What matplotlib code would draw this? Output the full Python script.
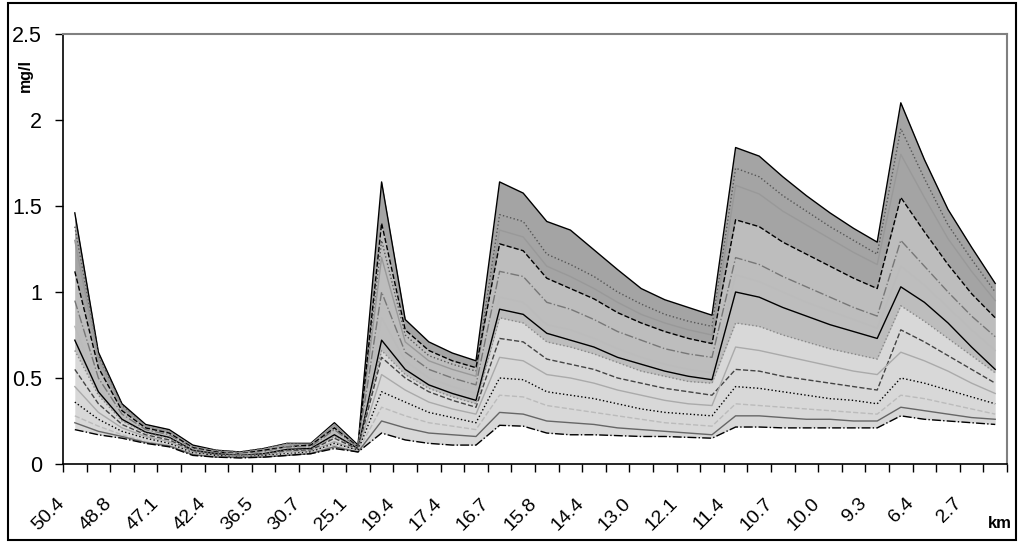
import matplotlib

matplotlib.use('Agg')
import matplotlib.pyplot as plt
import matplotlib.transforms as mtransforms
from matplotlib.patches import Rectangle
import numpy as np

plt.rcParams['font.family'] = ['Liberation Sans', 'DejaVu Sans']

# ──────────────────────────────────────────────────────────────────────────────
# Data (mg/l per river station)
# ──────────────────────────────────────────────────────────────────────────────

N_CATEGORIES = 40
KM_LABELS = ['50.4', '48.8', '47.1', '42.4', '36.5', '30.7', '25.1', '19.4',
             '17.4', '16.7', '15.8', '14.4', '13.0', '12.1', '11.4', '10.7',
             '10.0', '9.3', '6.4', '2.7']   # shown on every second station
KM_LABEL_STEP = 2

Y_TICKS = [0, 0.5, 1, 1.5, 2, 2.5]
Y_TICK_LABELS = ['0', '0.5', '1', '1.5', '2', '2.5']

c01 = [1.46, 0.65, 0.35, 0.23, 0.20, 0.11, 0.08, 0.07, 0.09, 0.12, 0.12, 0.24, 0.11,
       1.64, 0.84, 0.71, 0.645, 0.60,
       1.64, 1.575, 1.41, 1.36, 1.245, 1.13, 1.02, 0.955, 0.91, 0.865,
       1.84, 1.79, 1.67, 1.56, 1.46, 1.37, 1.29,
       2.10, 1.77, 1.48, 1.26, 1.05]
c02 = [1.38, 0.63, 0.34, 0.22, 0.19, 0.10, 0.08, 0.07, 0.09, 0.12, 0.11, 0.23, 0.10,
       1.30, 0.75, 0.63, 0.58, 0.54,
       1.45, 1.41, 1.22, 1.16, 1.09, 1.00, 0.93, 0.87, 0.83, 0.80,
       1.72, 1.67, 1.56, 1.47, 1.38, 1.30, 1.22,
       1.95, 1.66, 1.39, 1.19, 1.00]
c03 = [1.30, 0.61, 0.33, 0.22, 0.19, 0.10, 0.075, 0.065, 0.085, 0.115, 0.115, 0.23, 0.10,
       1.20, 0.71, 0.60, 0.55, 0.51,
       1.36, 1.32, 1.15, 1.09, 1.02, 0.94, 0.87, 0.82, 0.78, 0.75,
       1.62, 1.57, 1.47, 1.39, 1.31, 1.23, 1.16,
       1.80, 1.55, 1.31, 1.12, 0.95]
c04 = [1.12, 0.56, 0.31, 0.21, 0.18, 0.095, 0.07, 0.06, 0.08, 0.10, 0.11, 0.21, 0.10,
       1.40, 0.78, 0.66, 0.60, 0.56,
       1.28, 1.24, 1.08, 1.02, 0.96, 0.88, 0.82, 0.77, 0.73, 0.70,
       1.42, 1.38, 1.29, 1.22, 1.15, 1.08, 1.02,
       1.55, 1.35, 1.16, 0.99, 0.85]
c05 = [0.95, 0.50, 0.29, 0.20, 0.17, 0.09, 0.065, 0.06, 0.07, 0.10, 0.10, 0.20, 0.095,
       1.00, 0.65, 0.55, 0.50, 0.46,
       1.12, 1.09, 0.94, 0.90, 0.84, 0.77, 0.72, 0.67, 0.64, 0.62,
       1.20, 1.16, 1.09, 1.03, 0.97, 0.91, 0.86,
       1.30, 1.15, 1.00, 0.86, 0.74]
c06 = [0.80, 0.45, 0.27, 0.19, 0.16, 0.085, 0.06, 0.055, 0.065, 0.09, 0.09, 0.18, 0.09,
       0.85, 0.60, 0.50, 0.45, 0.41,
       0.97, 0.94, 0.81, 0.78, 0.73, 0.67, 0.62, 0.58, 0.55, 0.53,
       1.10, 1.06, 1.00, 0.94, 0.89, 0.84, 0.79,
       1.15, 1.04, 0.91, 0.78, 0.66]
c07 = [0.72, 0.42, 0.26, 0.185, 0.155, 0.08, 0.06, 0.05, 0.06, 0.085, 0.09, 0.17, 0.09,
       0.72, 0.55, 0.46, 0.41, 0.37,
       0.90, 0.87, 0.76, 0.72, 0.68, 0.62, 0.58, 0.54, 0.51, 0.49,
       1.00, 0.97, 0.91, 0.86, 0.81, 0.77, 0.73,
       1.03, 0.94, 0.82, 0.68, 0.55]
c08 = [0.66, 0.40, 0.25, 0.18, 0.15, 0.08, 0.06, 0.05, 0.06, 0.08, 0.085, 0.16, 0.09,
       0.66, 0.52, 0.44, 0.39, 0.35,
       0.85, 0.82, 0.71, 0.68, 0.64, 0.59, 0.54, 0.51, 0.48, 0.47,
       0.82, 0.80, 0.75, 0.71, 0.67, 0.64, 0.61,
       0.92, 0.83, 0.73, 0.63, 0.53]
c09 = [0.55, 0.35, 0.23, 0.17, 0.14, 0.075, 0.055, 0.05, 0.055, 0.075, 0.08, 0.15, 0.085,
       0.62, 0.50, 0.42, 0.37, 0.33,
       0.73, 0.71, 0.61, 0.58, 0.55, 0.50, 0.47, 0.44, 0.42, 0.40,
       0.55, 0.54, 0.51, 0.49, 0.47, 0.45, 0.43,
       0.78, 0.71, 0.63, 0.55, 0.47]
c10 = [0.45, 0.30, 0.21, 0.16, 0.13, 0.07, 0.05, 0.045, 0.05, 0.07, 0.075, 0.13, 0.08,
       0.52, 0.43, 0.36, 0.32, 0.29,
       0.62, 0.60, 0.52, 0.50, 0.47, 0.43, 0.40, 0.37, 0.35, 0.34,
       0.68, 0.66, 0.63, 0.60, 0.57, 0.54, 0.52,
       0.65, 0.60, 0.54, 0.47, 0.41]
c11 = [0.36, 0.26, 0.19, 0.15, 0.12, 0.065, 0.05, 0.04, 0.05, 0.06, 0.07, 0.12, 0.08,
       0.42, 0.36, 0.30, 0.27, 0.24,
       0.50, 0.49, 0.42, 0.40, 0.38, 0.35, 0.32, 0.30, 0.29, 0.28,
       0.45, 0.44, 0.42, 0.40, 0.38, 0.37, 0.35,
       0.50, 0.47, 0.43, 0.39, 0.35]
c12 = [0.28, 0.22, 0.17, 0.13, 0.11, 0.06, 0.045, 0.04, 0.045, 0.055, 0.065, 0.11, 0.075,
       0.33, 0.28, 0.24, 0.22, 0.20,
       0.40, 0.39, 0.34, 0.32, 0.30, 0.28, 0.26, 0.24, 0.23, 0.22,
       0.35, 0.34, 0.33, 0.32, 0.31, 0.30, 0.29,
       0.40, 0.38, 0.35, 0.32, 0.29]
c13 = [0.24, 0.19, 0.16, 0.125, 0.105, 0.055, 0.04, 0.04, 0.04, 0.05, 0.06, 0.10, 0.07,
       0.25, 0.21, 0.18, 0.17, 0.16,
       0.30, 0.29, 0.25, 0.24, 0.23, 0.21, 0.20, 0.19, 0.18, 0.17,
       0.28, 0.28, 0.27, 0.26, 0.26, 0.25, 0.25,
       0.33, 0.31, 0.29, 0.27, 0.26]
c14 = [0.20, 0.17, 0.15, 0.12, 0.10, 0.05, 0.04, 0.035, 0.04, 0.05, 0.06, 0.09, 0.07,
       0.18, 0.14, 0.12, 0.11, 0.11,
       0.225, 0.22, 0.18, 0.17, 0.17, 0.165, 0.16, 0.16, 0.155, 0.15,
       0.215, 0.215, 0.21, 0.21, 0.21, 0.21, 0.21,
       0.28, 0.26, 0.25, 0.24, 0.23]

CURVES = [c01, c02, c03, c04, c05, c06, c07, c08, c09, c10, c11, c12, c13, c14]

# line colour / dash per curve (excel-like b/w styles)
STYLES = [
    ('black', '-'), ('#555555', ':'), ('#999999', '-'), ('black', '--'),
    ('#777777', '-.'), ('#bbbbbb', '-'), ('black', '-'), ('#888888', ':'),
    ('#444444', '--'), ('#aaaaaa', '-'), ('black', ':'), ('#bbbbbb', '--'),
    ('#666666', '-'), ('black', '-.'),
]

W, H = 1018, 542
DPI = 100

# ──────────────────────────────────────────────────────────────────────────────
# Figure
# ──────────────────────────────────────────────────────────────────────────────

fig = plt.figure(figsize=(W / DPI, H / DPI), dpi=DPI)
fig.patch.set_facecolor('white')
ax = fig.add_axes([63 / W, 78 / H, 944 / W, 430 / H])

x = np.arange(N_CATEGORIES)

# the unresolved mass of overlapping profiles, darker where they crowd
ax.fill_between(x, c14, c01, color='#d8d8d8', linewidth=0, zorder=1)
ax.fill_between(x, c08, c01, color='#bdbdbd', linewidth=0, zorder=1)
ax.fill_between(x, c04, c01, color='#a4a4a4', linewidth=0, zorder=1)

for curve, (color, ls) in zip(CURVES, STYLES):
    ax.plot(x, curve, color=color, linestyle=ls, linewidth=1.0, zorder=2)

ax.set_xlim(-0.5, N_CATEGORIES - 0.5)
ax.set_ylim(0, 2.5)

# ── X-axis: tick marks between stations, labels on every second one ─────────
ax.set_xticks(np.arange(-0.5, N_CATEGORIES, 1))
ax.set_xticklabels([])
ax.tick_params(axis='x', which='major', direction='out', length=6, width=1,
               color='black')
ax.set_xticks(np.arange(0, N_CATEGORIES, KM_LABEL_STEP), KM_LABELS, minor=True)
ax.tick_params(axis='x', which='minor', length=0, pad=22, labelsize=14)
offset = mtransforms.ScaledTranslation(-0.07, 0, fig.dpi_scale_trans)
for lab in ax.get_xticklabels(minor=True):
    lab.set_rotation(45)
    lab.set_ha('right')
    lab.set_va('top')
    lab.set_transform(lab.get_transform() + offset)

# ── Y-axis ────────────────────────────────────────────────────────────────
ax.set_yticks(Y_TICKS, Y_TICK_LABELS)
ax.tick_params(axis='y', direction='out', length=6, width=1, pad=9,
               labelsize=15.5, color='black')

# ── Spines ────────────────────────────────────────────────────────────────
for side in ('top', 'right'):
    ax.spines[side].set_color('#808080')
    ax.spines[side].set_linewidth(1.5)
for side in ('left', 'bottom'):
    ax.spines[side].set_color('black')
    ax.spines[side].set_linewidth(1.2)

# ── Labels ────────────────────────────────────────────────────────────────
fig.text(25 / W, 1 - 75 / H, 'mg/l', rotation=90, fontsize=11.5,
         fontweight='bold', ha='center', va='center')
fig.text(1000 / W, 1 - 524 / H, 'km', fontsize=12, fontweight='bold',
         ha='center', va='center')

# outer chart frame
fig.add_artist(Rectangle((8 / W, 2 / H), 1008 / W, 537 / H,
                         transform=fig.transFigure, fill=False,
                         edgecolor='black', linewidth=1.5))

fig.savefig('out.png', dpi=DPI)
plt.close(fig)
